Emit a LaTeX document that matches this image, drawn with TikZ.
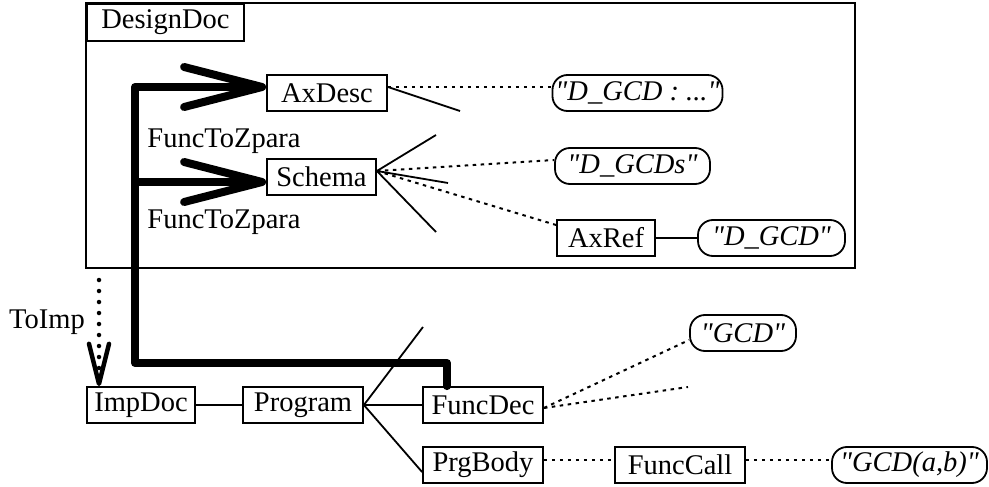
\documentclass[tikz,border=0pt]{standalone}
\usepackage{fontspec}
\setmainfont{Liberation Serif}
\usetikzlibrary{arrows.meta}

\newcommand{\qd}{\textquotedbl}

\tikzset{
  cls/.style={draw, line width=1.8pt, minimum height=36pt, inner sep=0pt},
  lit/.style={draw, line width=1.8pt, rounded corners=15pt, minimum height=36pt,
    inner xsep=3pt, inner ysep=0pt, execute at begin node=\itshape},
  tree/.style={line width=1.8pt},
  attr/.style={line width=2pt, dash pattern=on 3.5pt off 4.5pt},
  zpara/.style={line width=8pt, line join=round, line cap=round,
    -{Straight Barb[length=78pt,width=40pt,round]}},
  toimp/.style={line width=4.5pt, dash pattern=on 0pt off 11pt, line cap=round,
    -{Straight Barb[length=40pt,width=20pt,round]}}
}

\begin{document}
\begin{tikzpicture}[x=1pt, y=-1pt, font=\fontsize{28.5}{34}\selectfont]
  \useasboundingbox (0,0) rectangle (989,487);
  \draw[line width=2pt] (86,3) rectangle (855,268);
  \node[cls, minimum width=157pt, minimum height=37pt, anchor=north west] (designdoc) at (86,3) {DesignDoc};

  \node[cls, minimum width=120pt] (axdesc) at (327,93) {AxDesc};
  \node[cls, minimum width=109pt] (schema) at (321.5,177) {Schema};
  \node[lit, minimum width=165pt] (dgcddef) at (637.5,93) {\qd D\_GCD : ...\qd};
  \node[lit, minimum width=155pt] (dgcds) at (632.5,166) {\qd D\_GCDs\qd};
  \node[cls, minimum width=98pt] (axref) at (606,238) {AxRef};
  \node[lit, minimum width=147pt] (dgcd) at (771.5,238) {\qd D\_GCD\qd};

  \node[cls, minimum width=108pt] (impdoc) at (141,405) {ImpDoc};
  \node[cls, minimum width=120pt] (program) at (303,405) {Program};
  \node[cls, minimum width=120pt] (funcdec) at (483,405) {FuncDec};
  \node[cls, minimum width=120pt] (prgbody) at (483,465) {PrgBody};
  \node[cls, minimum width=130pt] (funccall) at (680,465) {FuncCall};
  \node[lit, minimum width=106pt] (gcd) at (743,333) {\qd GCD\qd};
  \node[lit, minimum width=155pt] (gcdcall) at (909.5,465) {\qd GCD(a,b)\qd};

  \node (zpara1) at (224,141) {FuncToZpara};
  \node (zpara2) at (224,222) {FuncToZpara};
  \node (toimp) at (47,322) {ToImp};

  \coordinate (trunk) at (135,363);
  \coordinate (branch) at (135,182);
  \coordinate (axtail) at (460,111);
  \coordinate (schup) at (436,135);
  \coordinate (schmid) at (448,183);
  \coordinate (schdown) at (436,232);
  \coordinate (progup) at (423,327);
  \coordinate (decfree) at (688,387);
  \coordinate (toimptail) at (99,280);

  \draw[zpara] ([xshift=-36pt]funcdec.north) |- (trunk) |- ([yshift=6pt]axdesc.west);
  \draw[zpara] (branch) -- ([yshift=-5pt]schema.west);
  \draw[toimp] (toimptail) -- ([xshift=-42pt]impdoc.north);

  \draw[tree] ([yshift=6pt]axdesc.east) -- (axtail);
  \draw[attr] ([yshift=6pt]axdesc.east) -- ([yshift=6pt]dgcddef.west);
  \draw[tree] (schup) -- ([yshift=6pt]schema.east) -- (schdown);
  \draw[tree] ([yshift=6pt]schema.east) -- (schmid);
  \draw[attr] ([yshift=6pt]schema.east) -- ([yshift=6pt]dgcds.west);
  \draw[attr] ([yshift=6pt]schema.east) -- ([yshift=13pt]axref.west);
  \draw[tree] (axref) -- (dgcd);

  \draw[tree] (impdoc) -- (program);
  \draw[tree] (program) -- (funcdec);
  \draw[tree] (progup) -- (program.east) -- ([yshift=-7pt]prgbody.west);
  \draw[attr] ([yshift=-3pt]funcdec.east) -- ([yshift=-7pt]gcd.west);
  \draw[attr] ([yshift=-3pt]funcdec.east) -- (decfree);
  \draw[attr] ([yshift=5pt]prgbody.east) -- ([yshift=5pt]funccall.west);
  \draw[attr] ([yshift=5pt]funccall.east) -- ([yshift=5pt]gcdcall.west);
\end{tikzpicture}
\end{document}
